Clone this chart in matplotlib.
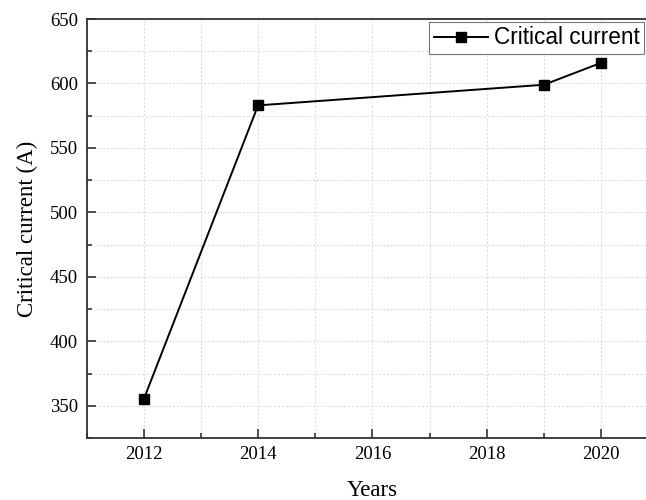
import matplotlib.pyplot as plt
from matplotlib.ticker import MultipleLocator

annees = [2012, 2014, 2019, 2020]
courant_critique = [355, 583, 599, 616]
nom_serie = 'Critical current'

plt.rcParams['font.family'] = 'Liberation Serif'

fig = plt.figure(figsize=(6.46, 5.0), dpi=100)
# axes un peu plus larges que la figure : le bord droit est coupé
ax = fig.add_axes([0.134, 0.124, 0.885, 0.838])

ax.plot(annees, courant_critique, color='black', linewidth=1.4,
        marker='s', markersize=6.5, label=nom_serie)

ax.set_xlim(2011, 2021)
ax.set_ylim(325, 650)
ax.xaxis.set_major_locator(MultipleLocator(2))
ax.xaxis.set_minor_locator(MultipleLocator(1))
ax.yaxis.set_major_locator(MultipleLocator(50))
ax.yaxis.set_minor_locator(MultipleLocator(25))

ax.tick_params(which='both', direction='in', top=False, right=False,
               labelsize=13.5, color='#333333', width=1.2)
ax.tick_params(which='major', length=6.5, pad=6)
ax.tick_params(which='minor', length=3.5)

ax.grid(True, which='both', linestyle=(0, (2, 2)), color='#d8d8d8', linewidth=0.7)
ax.set_axisbelow(True)

for cote in ['left', 'bottom', 'top', 'right']:
    ax.spines[cote].set_color('#333333')
    ax.spines[cote].set_linewidth(1.3)

ax.set_xlabel('Years', fontsize=16.5, labelpad=12)
ax.set_ylabel('Critical current (A)', fontsize=16.5, labelpad=9)

leg = ax.legend(loc='upper left', bbox_to_anchor=(0.599, 0.993),
                bbox_transform=ax.transAxes, borderaxespad=0,
                prop={'family': 'Liberation Sans', 'size': 16.3},
                handlelength=2.4, handletextpad=0.25, borderpad=0.2,
                fancybox=False, framealpha=1, edgecolor='#777777')
leg.get_frame().set_linewidth(0.8)

plt.savefig('out.png', dpi=100)
